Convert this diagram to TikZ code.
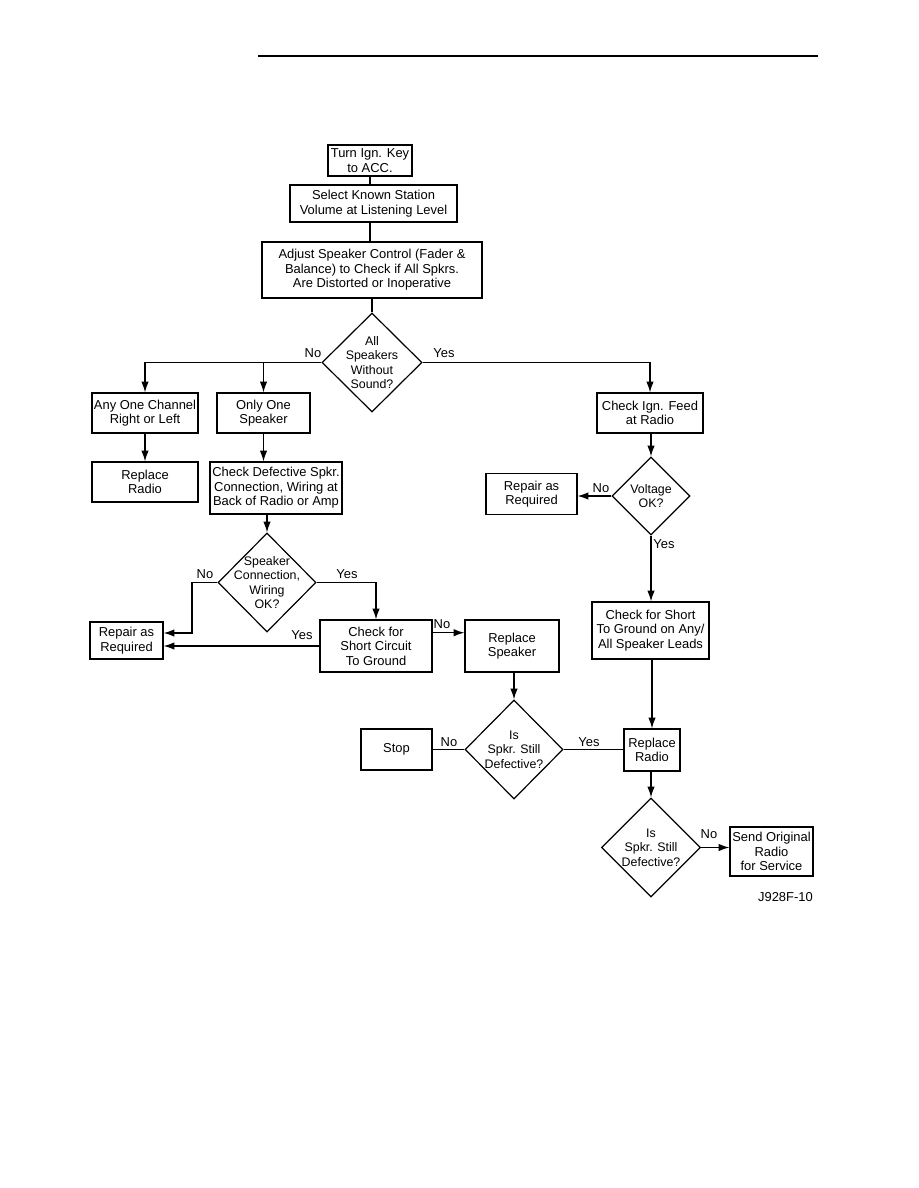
\documentclass[tikz,border=0pt]{standalone}
\usepackage{fontspec}
\setmainfont{Liberation Sans}
\usetikzlibrary{shapes.geometric,arrows.meta,calc}
\tikzset{
  ft/.style={font=\fontsize{9.7}{10.8}\selectfont},
  bx/.style 2 args={draw, line width=0.9pt, rectangle, inner sep=1pt, align=center, ft,
     minimum width=#1*0.75pt, minimum height=#2*0.75pt},
  dia/.style 2 args={draw, line width=0.9pt, diamond, inner sep=0pt,
     minimum width=#1*0.75pt, minimum height=#2*0.75pt},
  txt/.style={align=center, font=\fontsize{9.3}{10.8}\selectfont, inner sep=0pt},
  lbl/.style={ft, inner sep=0pt},
  ln/.style={line width=0.9pt},
  arr/.style={line width=0.9pt, -{Latex[length=8pt,width=5.5pt]}}
}
\begin{document}
\begin{tikzpicture}[x=0.75pt,y=-0.75pt]
\useasboundingbox (0,0) rectangle (918,1188);
\fill[white] (0,0) rectangle (918,1188);
\draw[line width=1.6pt] (258,56) coordinate (r1) -- (818,56) coordinate (r2);

% boxes
\node[bx={84}{31}] (b1) at (370,160.5) {Turn Ign. Key\\to ACC.};
\node[bx={167}{37}] (b2) at (373.5,203.5) {Select Known Station\\Volume at Listening Level};
\node[bx={220}{56}] (b3) at (372,270) {Adjust Speaker Control (Fader \&\\Balance) to Check if All Spkrs.\\Are Distorted or Inoperative};
\node[dia={100}{99}] (d1) at (372,362.5) {};
\node[txt] at (d1) {All\\Speakers\\Without\\Sound?};

\node[bx={106}{40}] (any) at (145,413) {Any One Channel\\Right or Left};
\node[bx={93}{40}] (only) at (263.5,413) {Only One\\Speaker};
\node[bx={106}{40}] (ign) at (650,413) {Check Ign. Feed\\at Radio};
\node[bx={106}{40}] (rrL) at (145,482) {Replace\\Radio};
\node[bx={132}{52}] (cd) at (276,488) {Check Defective Spkr.\\Connection, Wiring at\\Back of Radio or Amp};
\node[dia={78}{78}] (dv) at (651,496) {};
\node[txt] at (dv) {Voltage\\OK?};
\node[bx={91}{41}] (repR) at (531.5,494) {Repair as\\Required};

\node[dia={98}{99}] (d2) at (267,582.5) {};
\node[txt] at (d2) {Speaker\\Connection,\\Wiring\\OK?};
\node[bx={73}{37}] (repL) at (126.5,640.5) {Repair as\\Required};
\node[bx={112}{52}] (sc) at (376,646) {Check for\\Short Circuit\\To Ground};
\node[bx={94}{52}] (rs) at (512,646) {Replace\\Speaker};
\node[bx={117}{57}] (cs) at (650.5,630.5) {Check for Short\\To Ground on Any/\\All Speaker Leads};

\node[dia={98}{99}] (d3) at (514,749.5) {};
\node[txt] at (d3) {Is\\Spkr. Still\\Defective?};
\node[bx={71}{41}] (stop) at (396.5,749.5) {Stop};
\node[bx={56}{42}] (rrR) at (652,750) {Replace\\Radio};
\node[dia={99}{99}] (d4) at (651,847.5) {};
\node[txt] at (d4) {Is\\Spkr. Still\\Defective?};
\node[bx={83}{49}] (send) at (771.5,851.5) {Send Original\\Radio\\for Service};
\node[lbl, anchor=east] (fig) at (813,897) {J928F-10};

% connectors
\draw[ln] (b1.south) -- (b1.south |- b2.north);
\draw[ln] (b2.south -| b1.south) -- (b3.north -| b1.south);
\draw[ln] (b3.south) -- (d1.north);
\draw[arr] (d1.west) -| (any.north);
\draw[arr] (only.north |- d1.west) -- (only.north);
\draw[arr] (d1.east) -| (ign.north);
\draw[arr] (any.south) -- (rrL.north);
\draw[arr] (only.south) -- (only.south |- cd.north);
\draw[arr] (d2.north |- cd.south) -- (d2.north);
\draw[arr] (ign.south -| dv.north) -- (dv.north);
\draw[arr] (dv.west) -- (dv.west -| repR.east);
\draw[arr] (dv.south) -- (dv.south |- cs.north);
\draw[arr] (cs.south -| rrR.north) -- (rrR.north);
\coordinate (c1) at (192,582.5);
\coordinate (c2) at (192,633);
\draw[arr] (d2.west) -- (c1) -- (c2) -- (c2 -| repL.east);
\draw[arr] (d2.east) -| (sc.north);
\draw[arr] (sc.west) -- (sc.west -| repL.east);
\draw[arr] ($(sc.north east)!0.25!(sc.south east)$) coordinate (c3) -- (c3 -| rs.west);
\draw[arr] (d3.north |- rs.south) -- (d3.north);
\draw[ln] (d3.west) -- (d3.west -| stop.east);
\draw[ln] (d3.east) -- (d3.east -| rrR.west);
\draw[arr] (rrR.south -| d4.north) -- (d4.north);
\draw[arr] (d4.east) -- (d4.east -| send.west);

% labels
\node[lbl] at (313,353) {No};
\node[lbl] at (444,353) {Yes};
\node[lbl] at (601,488) {No};
\node[lbl] at (664,544) {Yes};
\node[lbl] at (205,574) {No};
\node[lbl] at (347,574) {Yes};
\node[lbl] at (302,635) {Yes};
\node[lbl] at (442,624) {No};
\node[lbl] at (449,742) {No};
\node[lbl] at (589,742) {Yes};
\node[lbl] at (709,834) {No};
\end{tikzpicture}
\end{document}
